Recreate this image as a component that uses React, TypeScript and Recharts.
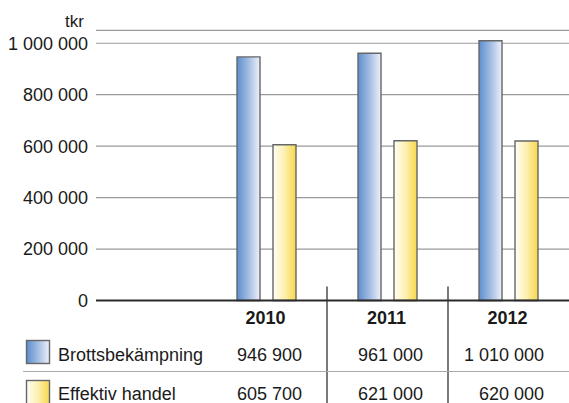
import { BarChart, Bar, XAxis, YAxis, CartesianGrid } from 'recharts'

const years = ['2010', '2011', '2012']
const brottsbekampning = [946900, 961000, 1010000]
const effektivHandel = [605700, 621000, 620000]
const yTicks = [0, 200000, 400000, 600000, 800000, 1000000]

const seriesNames = ['Brottsbekämpning', 'Effektiv handel']

const FONT = '"Liberation Sans", Arial, Helvetica, sans-serif'
const TEXT = '#1a1a1a'

// Swedish style thousands grouping: 1 010 000
function fmt(v: number): string {
    return String(v).replace(/\B(?=(\d{3})+(?!\d))/g, ' ')
}

const data = years.map((year, i) => ({
    year,
    brott: brottsbekampning[i],
    handel: effektivHandel[i],
}))

// Each x tick draws its table column: year header, the two values and the column divider
function TableTick(props: any) {
    const { x, y, payload } = props
    const i = payload.index as number
    const half = payload.offset || 60.5
    const right = x + half
    return (
        <g fontFamily={FONT} fontSize={18} fill={TEXT}>
            <text x={x - 1} y={y + 23} textAnchor="middle" fontWeight="bold" fill={TEXT}>
                {years[i]}
            </text>
            <text x={right - 25} y={y + 60.5} textAnchor="end" fill={TEXT}>
                {fmt(brottsbekampning[i])}
            </text>
            <text x={right - 25} y={y + 99.5} textAnchor="end" fill={TEXT}>
                {fmt(effektivHandel[i])}
            </text>
            {i < years.length - 1 && (
                <line x1={right} x2={right} y1={y - 14} y2={y + 110} stroke="#333" strokeWidth={1.3} />
            )}
        </g>
    )
}

function Gradients({ prefix }: { prefix: string }) {
    return (
        <defs>
            <linearGradient id={`${prefix}-blue`} x1="0" y1="0" x2="1" y2="0">
                <stop offset="0%" stopColor="#5b8fcf" />
                <stop offset="50%" stopColor="#a3bce2" />
                <stop offset="100%" stopColor="#eef1fb" />
            </linearGradient>
            <linearGradient id={`${prefix}-yellow`} x1="0" y1="0" x2="1" y2="0">
                <stop offset="0%" stopColor="#fffef6" />
                <stop offset="50%" stopColor="#fdf0b0" />
                <stop offset="100%" stopColor="#f6d84a" />
            </linearGradient>
        </defs>
    )
}

export default function App() {
    return (
        <div style={{ position: 'absolute', left: 0, top: 0, width: 569, height: 403, background: '#fff', overflow: 'hidden' }}>
            <BarChart
                width={569}
                height={403}
                data={data}
                margin={{ top: 30.4, right: 0, bottom: 0, left: 0 }}
                barSize={23}
                barGap={13}
            >
                <Gradients prefix="bar" />
                <CartesianGrid vertical={false} stroke="#9a9a9a" strokeWidth={1.2} />
                <XAxis
                    dataKey="year"
                    height={102.5}
                    padding={{ left: 110, right: 0 }}
                    axisLine={{ stroke: '#2a2a2a', strokeWidth: 2 }}
                    tickLine={false}
                    tickSize={0}
                    tickMargin={0}
                    interval={0}
                    tick={<TableTick />}
                />
                <YAxis
                    width={96}
                    domain={[0, 1050000]}
                    ticks={yTicks}
                    axisLine={false}
                    tickLine={false}
                    tickMargin={2}
                    tickFormatter={(v: number) => fmt(v)}
                    tick={{ fontSize: 18, fill: TEXT, fontFamily: FONT }}
                />
                <Bar dataKey="brott" fill="url(#bar-blue)" stroke="#666" strokeWidth={1.4} isAnimationActive={false} />
                <Bar dataKey="handel" fill="url(#bar-yellow)" stroke="#666" strokeWidth={1.4} isAnimationActive={false} />
            </BarChart>
            <svg
                width={569}
                height={403}
                style={{ position: 'absolute', left: 0, top: 0, pointerEvents: 'none' }}
                fontFamily={FONT}
            >
                <Gradients prefix="key" />
                <text x={84} y={26.5} textAnchor="end" fontSize={17} fill={TEXT}>
                    tkr
                </text>
                {/* legend column of the table */}
                <rect x={26.5} y={340.5} width={23} height={23} fill="url(#key-blue)" stroke="#666" strokeWidth={1.4} />
                <text x={58} y={361} fontSize={18} fill={TEXT}>
                    {seriesNames[0]}
                </text>
                <line x1={23} x2={569} y1={371.5} y2={371.5} stroke="#aaa" strokeWidth={1.2} />
                <rect x={26.5} y={380.5} width={23} height={30} fill="url(#key-yellow)" stroke="#666" strokeWidth={1.4} />
                <text x={58} y={400} fontSize={18} fill={TEXT}>
                    {seriesNames[1]}
                </text>
            </svg>
        </div>
    )
}
